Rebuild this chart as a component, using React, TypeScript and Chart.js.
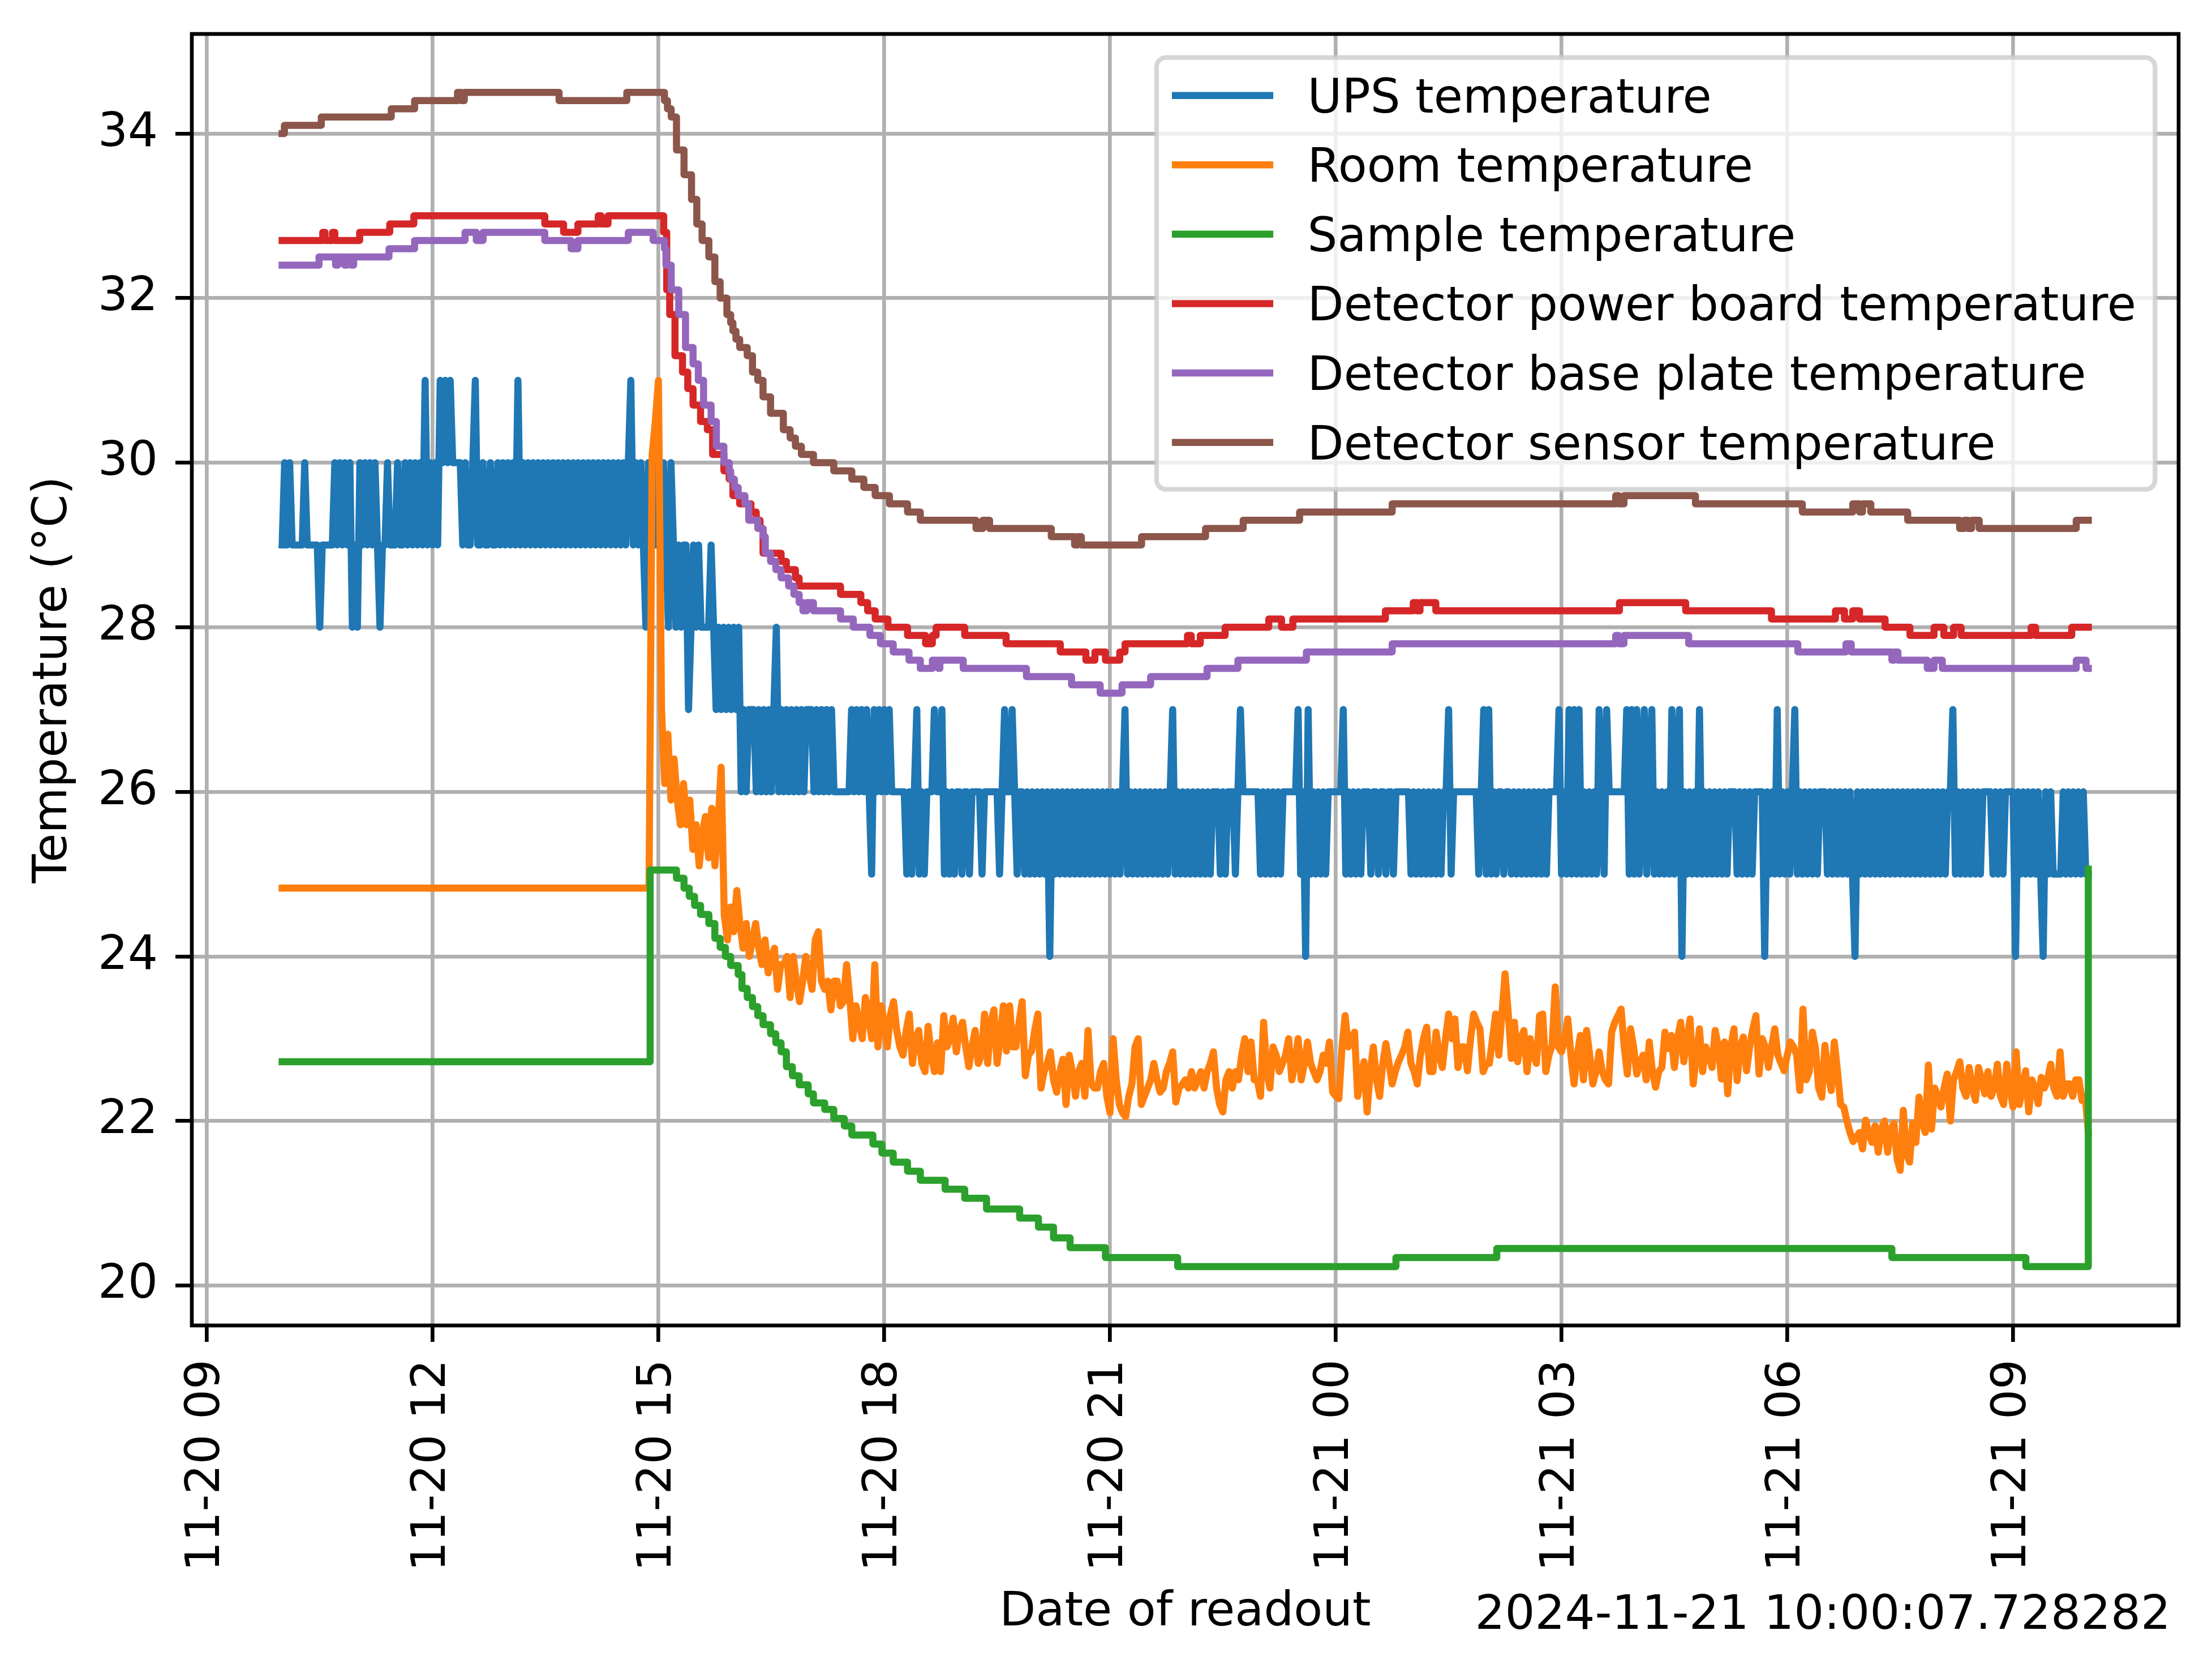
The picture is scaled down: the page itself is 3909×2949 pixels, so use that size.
import React, { useEffect, useRef } from "react";
import { Chart, registerables } from "chart.js";

Chart.register(...registerables);

// ---------- labels / ticks ----------
const SERIES_LABELS = [
  "UPS temperature",
  "Room temperature",
  "Sample temperature",
  "Detector power board temperature",
  "Detector base plate temperature",
  "Detector sensor temperature",
];
const SERIES_COLORS = ["#1f77b4", "#ff7f0e", "#2ca02c", "#d62728", "#9467bd", "#8c564b"];

// x values are hours counted from 2024-11-20 00:00
const X_TICK_HOURS = [9, 12, 15, 18, 21, 24, 27, 30, 33];
const X_TICK_LABELS = [
  "11-20 09", "11-20 12", "11-20 15", "11-20 18", "11-20 21",
  "11-21 00", "11-21 03", "11-21 06", "11-21 09",
];
const Y_TICKS = [20, 22, 24, 26, 28, 30, 32, 34];
const X_TITLE = "Date of readout";
const Y_TITLE = "Temperature (°C)";
const OFFSET_LABEL = "2024-11-21 10:00:07.728282";

// ---------- UPS temperature: one reading every 2 minutes, 11-20 10:00 .. 11-21 10:00 ----------
const UPS_START_HOUR = 10;
const UPS_STEP_HOURS = 2 / 60;
const upsTemp = [
  29,30,29,30,29,29,29,29,29,30,29,29,29,29,29,28,29,29,29,29,29,30,29,30,29,30,29,30,28,29, // 10h
  28,30,29,30,29,30,29,30,29,28,29,29,30,29,29,29,30,29,29,30,29,30,29,30,29,30,29,31,29,30, // 11h
  29,30,29,31,30,31,30,31,30,30,30,30,29,30,29,29,30,31,29,29,30,29,29,30,29,29,30,29,30,29, // 12h
  30,29,30,29,31,29,30,29,30,29,30,29,30,29,30,29,30,29,30,29,30,29,30,29,30,29,30,29,30,29, // 13h
  30,29,30,29,30,29,30,29,30,29,30,29,30,29,30,29,30,29,30,31,29,30,29,30,29,28,30,29,30,29, // 14h
  30,29,30,29,28,30,29,28,29,28,29,29,27,28,29,28,29,28,28,28,28,29,28,27,28,27,28,27,28,27, // 15h
  28,27,28,26,27,26,27,27,27,26,27,26,27,26,27,26,27,28,26,27,26,27,26,27,26,27,26,27,26,27, // 16h
  27,27,26,27,26,27,26,27,26,27,26,26,26,26,26,26,26,27,26,27,26,27,26,27,26,25,27,26,27,26, // 17h
  27,26,27,26,26,26,26,26,26,25,26,25,26,27,25,26,25,26,26,26,27,26,26,27,25,26,25,26,25,26, // 18h
  26,25,26,26,25,26,26,26,26,25,26,26,26,26,26,26,25,26,27,26,26,27,26,25,26,26,25,26,25,26, // 19h
  25,26,25,26,25,26,24,26,25,26,25,26,25,26,25,26,25,26,25,26,25,26,25,26,25,26,25,26,25,26, // 20h
  25,26,25,26,25,26,27,25,26,25,26,25,26,25,26,25,26,25,26,25,26,25,26,25,26,27,25,26,25,26, // 21h
  25,26,25,26,25,26,25,26,25,26,25,26,26,26,25,26,25,26,26,26,25,26,27,26,26,26,26,26,26,26, // 22h
  25,26,25,26,25,26,25,26,25,26,26,26,26,26,26,27,25,26,24,27,25,26,25,26,25,26,25,26,26,26, // 23h
  26,26,26,27,25,26,25,26,25,26,25,26,26,26,25,26,26,25,26,26,25,26,26,25,26,26,26,26,26,26, // 00h
  25,26,25,26,25,26,25,26,25,26,25,26,25,26,26,27,25,26,26,26,26,26,26,26,26,26,26,25,26,27, // 01h
  25,27,25,26,25,26,26,25,26,26,25,26,25,26,25,26,25,26,25,26,25,26,25,26,25,26,26,26,26,27, // 02h
  25,26,25,27,25,27,25,27,25,26,25,26,25,26,25,27,26,25,27,26,26,26,26,26,26,26,27,25,27,25, // 03h
  27,25,26,27,25,26,27,25,26,25,26,25,26,25,27,25,26,27,24,26,25,26,25,26,25,27,25,26,25,26, // 04h
  25,26,25,26,25,26,25,26,26,26,25,26,25,26,25,26,25,26,26,26,26,24,26,25,26,25,27,25,26,25, // 05h
  26,25,26,27,25,26,25,26,25,26,25,26,25,26,26,26,25,26,25,26,25,26,25,26,25,26,25,24,26,25, // 06h
  26,25,26,25,26,25,26,25,26,25,26,25,26,25,26,25,26,25,26,25,26,25,26,25,26,25,26,25,26,25, // 07h
  26,25,26,25,26,26,27,25,26,25,26,25,26,25,26,25,26,25,26,26,26,26,25,26,25,26,25,26,26,26, // 08h
  26,24,26,25,26,25,26,25,26,25,26,25,24,26,25,26,25,25,25,25,26,25,26,25,26,25,26,25,26,25, // 09h
  25,                                                                                          // 10h
];

// ---------- Room temperature: one reading every 2.5 minutes, 11-20 10:00 .. 11-21 10:00 ----------
const ROOM_START_HOUR = 10;
const ROOM_STEP_HOURS = 2.5 / 60;
const roomTemp = [
  24.83,24.83,24.83,24.83,24.83,24.83,24.83,24.83,24.83,24.83,24.83,24.83,24.83,24.83,24.83,24.83,24.83,24.83,24.83,24.83,24.83,24.83,24.83,24.83, // 10h
  24.83,24.83,24.83,24.83,24.83,24.83,24.83,24.83,24.83,24.83,24.83,24.83,24.83,24.83,24.83,24.83,24.83,24.83,24.83,24.83,24.83,24.83,24.83,24.83, // 11h
  24.83,24.83,24.83,24.83,24.83,24.83,24.83,24.83,24.83,24.83,24.83,24.83,24.83,24.83,24.83,24.83,24.83,24.83,24.83,24.83,24.83,24.83,24.83,24.83, // 12h
  24.83,24.83,24.83,24.83,24.83,24.83,24.83,24.83,24.83,24.83,24.83,24.83,24.83,24.83,24.83,24.83,24.83,24.83,24.83,24.83,24.83,24.83,24.83,24.83, // 13h
  24.83,24.83,24.83,24.83,24.83,24.83,24.83,24.83,24.83,24.83,24.83,24.83,24.83,24.83,24.83,24.83,24.83,24.83,24.83,24.83,24.83,24.83,30.1,30.5,   // 14h
  31.0,27.0,26.1,26.7,25.9,26.4,25.9,25.6,26.1,25.6,25.9,25.3,25.6,25.1,25.5,25.7,25.2,25.8,25.1,25.6,26.3,24.5,24.2,24.6, // 15h
  24.3,24.8,24.4,24.1,24.4,24.0,24.2,24.4,24.1,23.9,24.2,23.8,24.0,24.1,23.6,23.9,23.9,24.0,23.5,24.0,23.7,23.45,23.7,24.0, // 16h
  23.8,23.6,24.2,24.3,23.7,23.6,23.7,23.35,23.7,23.7,23.4,23.45,23.9,23.5,23.0,23.4,23.2,23.0,23.5,23.3,23.0,23.9,22.9,23.4, // 17h
  23.2,22.9,23.3,23.45,23.1,22.9,22.8,23.1,23.3,22.7,23.0,23.1,22.7,22.6,23.15,22.8,22.6,22.95,22.6,23.28,22.9,23.0,23.25,22.84, // 18h
  23.1,23.2,22.9,22.66,22.9,23.1,22.7,22.8,23.3,22.7,23.2,23.35,22.7,23.0,23.4,22.85,23.4,22.9,22.9,23.2,23.45,22.55,22.8,22.85, // 19h
  23.1,23.3,22.4,22.6,22.7,22.84,22.5,22.35,22.6,22.75,22.2,22.8,22.6,22.3,22.6,22.7,22.3,23.1,22.45,22.4,22.4,22.6,22.7,22.3, // 20h
  22.1,23.0,22.5,22.2,22.1,22.05,22.3,22.45,22.9,23.0,22.2,22.3,22.4,22.5,22.7,22.5,22.35,22.4,22.6,22.7,22.84,22.23,22.4,22.44, // 21h
  22.5,22.4,22.6,22.4,22.5,22.6,22.4,22.6,22.7,22.84,22.4,22.2,22.11,22.5,22.6,22.4,22.6,22.5,22.8,23.0,22.6,22.96,22.5,22.5, // 22h
  22.3,23.2,22.6,22.4,22.9,22.8,22.6,22.7,22.8,23.0,22.5,22.7,23.0,22.5,22.7,22.96,22.7,22.6,22.5,22.6,22.8,22.7,22.96,22.35, // 23h
  22.3,22.27,22.9,23.28,22.9,23.0,23.08,22.3,22.5,22.72,22.11,22.6,22.9,22.5,22.3,22.7,22.94,22.7,22.45,22.6,22.72,22.8,22.9,23.08, // 00h
  22.7,22.6,22.45,22.8,23.0,23.14,22.6,22.6,23.08,22.8,22.65,23.0,23.3,23.0,23.24,22.65,22.9,22.9,22.61,23.0,23.3,23.2,23.12,22.6, // 01h
  22.7,22.7,23.0,23.3,22.8,23.3,23.79,23.32,22.76,23.2,22.72,23.0,23.1,22.6,23.0,22.8,22.7,23.28,23.3,22.6,22.8,22.92,23.63,22.9, // 02h
  22.84,23.0,23.24,22.8,22.45,22.8,23.04,22.5,23.1,22.8,22.45,22.6,22.84,22.6,22.5,22.45,23.08,23.2,23.28,23.36,22.9,22.57,23.12,22.9, // 03h
  22.57,22.7,22.8,22.5,22.96,22.6,22.41,22.6,22.65,23.08,22.88,23.04,22.65,23.0,23.2,22.72,23.0,23.24,22.45,22.8,23.12,22.6,22.9,22.8, // 04h
  22.65,23.1,22.9,22.51,22.96,22.33,22.9,23.12,22.49,22.9,23.02,22.61,22.9,23.12,23.28,22.57,23.0,22.9,22.65,22.9,23.12,22.8,22.7,22.61, // 05h
  22.8,22.96,22.9,22.8,22.37,23.36,22.5,22.6,23.08,22.88,22.4,22.29,22.92,22.6,22.37,22.96,22.61,22.2,22.17,22.0,21.86,21.75,21.8,21.86, // 06h
  21.66,22.01,21.85,21.74,21.94,21.62,21.9,22.0,21.62,21.9,21.97,21.54,21.4,22.13,21.6,21.5,21.97,21.74,22.29,22.0,21.86,22.68,21.9,22.4, // 07h
  22.3,22.17,22.4,22.57,22.0,22.5,22.6,22.72,22.4,22.3,22.65,22.4,22.25,22.65,22.5,22.33,22.6,22.3,22.4,22.69,22.3,22.2,22.69,22.4, // 08h
  22.17,22.84,22.2,22.4,22.61,22.11,22.5,22.4,22.21,22.53,22.4,22.5,22.69,22.4,22.3,22.84,22.3,22.45,22.45,22.3,22.5,22.5,22.25,22.3, // 09h
  21.86, // 10h
];

// ---------- stepped series: [hour, new value] at each change ----------
const sampleSteps = [
  [10.0, 22.72], [14.89, 25.05], [15.24, 24.95], [15.34, 24.83], [15.41, 24.73], [15.48, 24.62],
  [15.56, 24.51], [15.67, 24.4], [15.75, 24.22], [15.82, 24.11], [15.89, 24.0], [15.96, 23.89],
  [16.06, 23.78], [16.11, 23.61], [16.18, 23.5], [16.25, 23.39], [16.32, 23.28], [16.39, 23.17],
  [16.49, 23.06], [16.56, 22.95], [16.63, 22.84], [16.7, 22.66], [16.78, 22.55], [16.87, 22.44],
  [16.99, 22.33], [17.06, 22.22], [17.21, 22.14], [17.33, 22.03], [17.47, 21.94], [17.57, 21.83],
  [17.85, 21.72], [17.97, 21.61], [18.12, 21.5], [18.31, 21.39], [18.48, 21.28], [18.81, 21.17],
  [19.07, 21.06], [19.36, 20.93], [19.8, 20.82], [20.05, 20.71], [20.25, 20.58], [20.47, 20.46],
  [20.94, 20.34], [21.9, 20.23], [24.8, 20.34], [26.14, 20.45], [31.39, 20.34], [33.17, 20.23],
  [34.0, 25.06],
];

const powerBoardSteps = [
  [10.0, 32.7], [10.54, 32.8], [10.57, 32.7], [10.67, 32.8], [10.7, 32.7], [11.03, 32.8],
  [11.43, 32.9], [11.75, 33.0], [13.49, 32.9], [13.74, 32.8], [13.93, 32.9], [14.2, 33.0],
  [14.24, 32.9], [14.33, 33.0], [15.07, 32.8], [15.11, 32.1], [15.15, 31.8], [15.22, 31.3],
  [15.32, 31.1], [15.39, 30.9], [15.46, 30.7], [15.56, 30.5], [15.65, 30.4], [15.72, 30.1],
  [15.87, 29.9], [15.94, 29.8], [15.99, 29.6], [16.08, 29.5], [16.23, 29.4], [16.3, 29.3],
  [16.35, 29.2], [16.39, 28.9], [16.63, 28.8], [16.7, 28.7], [16.82, 28.6], [16.87, 28.5],
  [17.42, 28.4], [17.69, 28.3], [17.78, 28.2], [17.88, 28.1], [18.05, 28.0], [18.31, 27.9],
  [18.55, 27.8], [18.64, 27.9], [18.69, 28.0], [19.07, 27.9], [19.62, 27.8], [20.34, 27.7],
  [20.68, 27.6], [20.8, 27.7], [20.94, 27.6], [21.13, 27.7], [21.2, 27.8], [22.03, 27.9],
  [22.08, 27.8], [22.2, 27.9], [22.53, 28.0], [23.11, 28.1], [23.28, 28.0], [23.43, 28.1],
  [24.66, 28.2], [25.03, 28.3], [25.08, 28.2], [25.12, 28.3], [25.33, 28.2], [27.77, 28.3],
  [28.65, 28.2], [29.79, 28.1], [30.64, 28.2], [30.76, 28.1], [30.87, 28.2], [30.96, 28.1],
  [31.3, 28.0], [31.63, 27.9], [31.95, 28.0], [32.08, 27.9], [32.21, 28.0], [32.31, 27.9],
  [33.24, 28.0], [33.3, 27.9], [33.78, 28.0], [34.0, 28.0],
];

const basePlateSteps = [
  [10.0, 32.4], [10.49, 32.5], [10.71, 32.4], [10.74, 32.5], [10.83, 32.4], [10.86, 32.5],
  [10.92, 32.4], [10.95, 32.5], [11.42, 32.6], [11.76, 32.7], [12.43, 32.8], [12.58, 32.7],
  [12.67, 32.8], [13.49, 32.7], [13.84, 32.6], [13.93, 32.7], [14.6, 32.8], [14.93, 32.7],
  [15.08, 32.6], [15.1, 32.4], [15.17, 32.1], [15.27, 31.8], [15.36, 31.4], [15.46, 31.2],
  [15.53, 31.0], [15.6, 30.7], [15.7, 30.5], [15.77, 30.2], [15.87, 30.0], [15.94, 29.9],
  [15.96, 29.8], [16.01, 29.7], [16.06, 29.6], [16.15, 29.5], [16.2, 29.3], [16.32, 29.2],
  [16.39, 29.1], [16.42, 28.9], [16.49, 28.8], [16.56, 28.7], [16.63, 28.6], [16.73, 28.5],
  [16.8, 28.4], [16.87, 28.3], [16.92, 28.2], [16.97, 28.3], [17.06, 28.2], [17.42, 28.1],
  [17.59, 28.0], [17.81, 27.9], [17.95, 27.8], [18.12, 27.7], [18.33, 27.6], [18.48, 27.5],
  [18.64, 27.6], [18.72, 27.5], [18.74, 27.6], [19.05, 27.5], [19.89, 27.4], [20.49, 27.3],
  [20.87, 27.2], [21.16, 27.3], [21.54, 27.4], [22.29, 27.5], [22.7, 27.6], [23.61, 27.7],
  [24.75, 27.8], [27.72, 27.9], [27.76, 27.8], [27.83, 27.9], [28.69, 27.8], [30.14, 27.7],
  [30.78, 27.8], [30.85, 27.7], [31.39, 27.6], [31.42, 27.7], [31.47, 27.6], [31.86, 27.5],
  [31.95, 27.6], [32.06, 27.5], [33.84, 27.6], [33.97, 27.5], [34.0, 27.5],
];

const sensorSteps = [
  [10.0, 34.0], [10.03, 34.1], [10.52, 34.2], [11.45, 34.3], [11.76, 34.4], [12.33, 34.5],
  [12.38, 34.4], [12.42, 34.5], [13.68, 34.4], [14.58, 34.5], [15.08, 34.4], [15.12, 34.3],
  [15.17, 34.2], [15.24, 33.8], [15.34, 33.5], [15.44, 33.2], [15.51, 32.9], [15.58, 32.7],
  [15.67, 32.5], [15.75, 32.2], [15.82, 32.0], [15.91, 31.8], [15.96, 31.7], [15.99, 31.6],
  [16.03, 31.5], [16.08, 31.4], [16.18, 31.3], [16.25, 31.1], [16.32, 31.0], [16.39, 30.8],
  [16.49, 30.6], [16.66, 30.4], [16.75, 30.3], [16.82, 30.2], [16.9, 30.1], [17.06, 30.0],
  [17.33, 29.9], [17.57, 29.8], [17.73, 29.7], [17.88, 29.6], [18.07, 29.5], [18.31, 29.4],
  [18.48, 29.3], [19.22, 29.2], [19.31, 29.3], [19.4, 29.2], [20.22, 29.1], [20.53, 29.0],
  [20.57, 29.1], [20.62, 29.0], [21.42, 29.1], [22.27, 29.2], [22.77, 29.3], [23.52, 29.4],
  [24.75, 29.5], [27.72, 29.6], [27.76, 29.5], [27.83, 29.6], [28.78, 29.5], [30.2, 29.4],
  [30.87, 29.5], [30.96, 29.4], [31.0, 29.5], [31.11, 29.4], [31.6, 29.3], [32.29, 29.2],
  [32.35, 29.3], [32.4, 29.2], [32.45, 29.3], [32.55, 29.2], [33.84, 29.3], [34.0, 29.3],
];

// ---------- styling ----------
const W = 3909;
const H = 2949;
const FONT_FAMILY = "'DejaVu Sans', sans-serif";
const FS = 83.33;
const LINE_W = 12.5;
const THIN = 6.67;
const AREA = { left: 339, top: 60, right: 3850, bottom: 2342 };

const overlayPlugin = {
  id: "overlay",
  afterDatasetsDraw(chart: any) {
    const { ctx, chartArea: a } = chart;
    ctx.save();
    ctx.strokeStyle = "#000";
    ctx.lineWidth = THIN;
    ctx.lineJoin = "miter";
    ctx.strokeRect(a.left, a.top, a.right - a.left, a.bottom - a.top);
    ctx.restore();
  },
  afterDraw(chart: any) {
    const { ctx, chartArea: a } = chart;
    ctx.save();
    ctx.font = `${FS}px ${FONT_FAMILY}`;
    const labels: string[] = chart.data.datasets.map((d: any) => d.label);
    const colors: string[] = chart.data.datasets.map((d: any) => d.borderColor);
    const maxW = Math.max(...labels.map((l) => ctx.measureText(l).width));
    const pad = 0.4 * FS;
    const handleLen = 2 * FS;
    const handlePad = 0.8 * FS;
    const boxW = pad + handleLen + handlePad + maxW + pad;
    const boxH = 763;
    const right = a.right - 0.5 * FS;
    const top = a.top + 0.5 * FS;
    const left = right - boxW;
    ctx.beginPath();
    ctx.roundRect(left, top, boxW, boxH, 0.2 * FS);
    ctx.fillStyle = "rgba(255,255,255,0.8)";
    ctx.fill();
    ctx.lineWidth = 8.33;
    ctx.strokeStyle = "rgba(204,204,204,0.8)";
    ctx.stroke();
    const rowStep = 122.6;
    labels.forEach((lab, k) => {
      const cy = top + 67 + k * rowStep;
      ctx.beginPath();
      ctx.moveTo(left + pad, cy);
      ctx.lineTo(left + pad + handleLen, cy);
      ctx.strokeStyle = colors[k];
      ctx.lineWidth = LINE_W;
      ctx.lineCap = "square";
      ctx.stroke();
      ctx.fillStyle = "#000";
      ctx.textAlign = "left";
      ctx.textBaseline = "alphabetic";
      ctx.fillText(lab, left + pad + handleLen + handlePad, cy + 30);
    });
    // date offset text of the x axis
    ctx.fillStyle = "#000";
    ctx.textAlign = "right";
    ctx.textBaseline = "alphabetic";
    ctx.fillText(OFFSET_LABEL, a.right - 14, a.bottom + 536);
    ctx.restore();
  },
};

export default function App() {
  const ref = useRef<HTMLCanvasElement>(null);

  useEffect(() => {
    const canvas = ref.current;
    if (!canvas) return;
    const sampled = (vals: number[], start: number, step: number) =>
      vals.map((v, i) => ({ x: start + i * step, y: v }));
    const stepped = (steps: number[][]) => steps.map(([x, y]) => ({ x, y }));

    const base = [
      { data: sampled(upsTemp, UPS_START_HOUR, UPS_STEP_HOURS), stepped: false, order: 6 },
      { data: sampled(roomTemp, ROOM_START_HOUR, ROOM_STEP_HOURS), stepped: false, order: 5 },
      { data: stepped(sampleSteps), stepped: true, order: 4 },
      { data: stepped(powerBoardSteps), stepped: true, order: 3 },
      { data: stepped(basePlateSteps), stepped: true, order: 2 },
      { data: stepped(sensorSteps), stepped: true, order: 1 },
    ];
    const datasets = base.map((d, i) => ({
      ...d,
      label: SERIES_LABELS[i],
      borderColor: SERIES_COLORS[i],
      backgroundColor: SERIES_COLORS[i],
      borderWidth: LINE_W,
      pointRadius: 0,
      pointHoverRadius: 0,
      fill: false,
      tension: 0,
      borderJoinStyle: "round" as const,
      borderCapStyle: "square" as const,
    }));

    const font = { family: FONT_FAMILY, size: FS };
    const grid = {
      color: "#b0b0b0",
      lineWidth: THIN,
      drawTicks: true,
      tickLength: 29,
      tickWidth: THIN,
      tickColor: "#000",
    };

    const chart = new Chart(canvas, {
      type: "line",
      data: { datasets } as any,
      options: {
        animation: false,
        responsive: false,
        devicePixelRatio: 1,
        events: [],
        layout: { padding: { top: AREA.top, right: W - AREA.right, left: 0, bottom: 0 } },
        plugins: { legend: { display: false }, tooltip: { enabled: false } },
        scales: {
          x: {
            type: "linear",
            min: 8.8,
            max: 35.2,
            afterBuildTicks: (s: any) => {
              s.ticks = X_TICK_HOURS.map((v) => ({ value: v }));
            },
            afterFit: (s: any) => {
              s.height = H - AREA.bottom;
              s.paddingLeft = 0;
              s.paddingRight = 0;
            },
            ticks: {
              autoSkip: false,
              minRotation: 90,
              maxRotation: 90,
              padding: 31,
              color: "#000",
              font,
              callback: (_v: any, i: number) => X_TICK_LABELS[i],
            },
            grid,
            border: { display: false },
            title: { display: true, text: X_TITLE, color: "#000", font, padding: { top: 0, bottom: 49 } },
          },
          y: {
            type: "linear",
            min: 19.515,
            max: 35.21,
            afterBuildTicks: (s: any) => {
              s.ticks = Y_TICKS.map((v) => ({ value: v }));
            },
            afterFit: (s: any) => {
              s.width = AREA.left;
              s.paddingTop = 0;
              s.paddingBottom = 0;
            },
            ticks: {
              padding: 31,
              color: "#000",
              font,
              callback: (v: any) => String(v),
            },
            grid,
            border: { display: false },
            title: { display: true, text: Y_TITLE, color: "#000", font, padding: { top: 45, bottom: 0 } },
          },
        },
      } as any,
      plugins: [overlayPlugin],
    });
    return () => chart.destroy();
  }, []);

  return (
    <div style={{ position: "absolute", left: 0, top: 0, width: W, height: H, background: "#fff" }}>
      <canvas ref={ref} width={W} height={H} style={{ width: W, height: H, display: "block" }} />
    </div>
  );
}
